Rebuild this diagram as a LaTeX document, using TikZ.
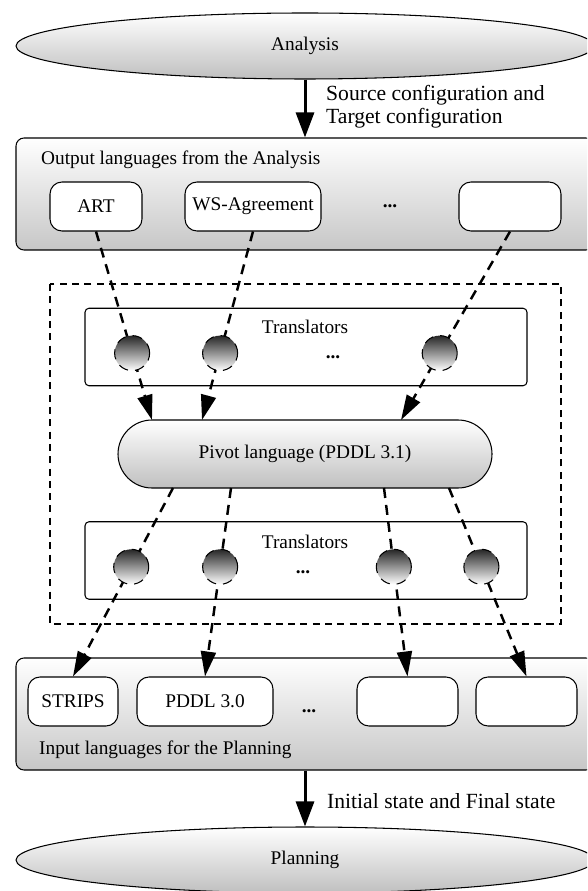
\documentclass[tikz,border=0pt]{standalone}
\usepackage{fontspec}
\setmainfont{Liberation Serif}
\usetikzlibrary{arrows.meta, shapes.geometric}

\begin{document}
\begin{tikzpicture}[
      every node/.style={font=\fontsize{11}{13}\selectfont},
      stage/.style={ellipse, draw, line width=0.6pt, top color=white, bottom color=black!25, minimum width=11.56cm, minimum height=1.32cm, inner sep=0pt},
      group/.style={rectangle, rounded corners=0.16cm, draw, line width=0.6pt, top color=white, bottom color=black!22, minimum width=11.56cm, minimum height=2.24cm},
      lang/.style={rectangle, rounded corners=0.24cm, draw, line width=0.6pt, fill=white, minimum height=0.98cm},
      trans/.style={rectangle, rounded corners=0.08cm, draw, line width=0.6pt, fill=white, minimum width=8.84cm, minimum height=1.55cm},
      ball/.style={circle, draw, line width=0.6pt, top color=black!85, bottom color=white, minimum size=0.7cm, inner sep=0pt},
      link/.style={-{Triangle[length=0.5cm, width=0.3cm]}, line width=1.4pt, dash pattern=on 5.7pt off 4pt},
      flow/.style={-{Triangle[length=0.5cm, width=0.36cm]}, line width=1.7pt},
      note/.style={anchor=west, align=left, font=\fontsize{12.3}{13.1}\selectfont}]

      \useasboundingbox (0,0) rectangle (11.74,-17.82);
      \clip (0,0) rectangle (11.74,-17.82);

      % Analysis side
      \node[stage] (analysis) at (6.10,-0.92) {Analysis};
      \node[group] (outbox) at (6.10,-3.88) {};
      \node[anchor=west] (outtitle) at (0.70,-3.20) {Output languages from the Analysis};
      \node[lang, minimum width=1.84cm] (art) at (1.92,-4.13) {ART};
      \node[lang, minimum width=2.72cm] (ws) at (5.06,-4.13) {WS-Agreement};
      \node (outdots) at (7.80,-4.12) {\textbf{...}};
      \node[lang, minimum width=2.04cm] (outx) at (10.20,-4.13) {};

      \draw[flow] (analysis.south) -- (outbox.north);
      \node[note] (srclabel) at (6.40,-2.13) {Source configuration and\\Target configuration};

      % Translation core
      \draw[line width=0.8pt, dash pattern=on 4pt off 3pt] (1.00,-5.68) rectangle (11.22,-12.48);
      \node[trans] (trans1) at (6.12,-6.94) {};
      \node (trans1title) at (6.10,-6.54) {Translators};
      \node (trans1dots) at (6.66,-7.14) {\textbf{...}};
      \node[rectangle, rounded corners=0.68cm, draw, line width=0.6pt, top color=white, bottom color=black!25, minimum width=7.48cm, minimum height=1.36cm] (pivot) at (6.10,-9.08) {Pivot language (PDDL 3.1)};
      \node[trans] (trans2) at (6.12,-11.21) {};
      \node (trans2title) at (6.10,-10.84) {Translators};
      \node (trans2dots) at (6.06,-11.44) {\textbf{...}};

      \coordinate (pin1) at (3.04,-8.40);
      \coordinate (pin2) at (4.04,-8.40);
      \coordinate (pin3) at (8.02,-8.40);
      \coordinate (pout1) at (3.46,-9.76);
      \coordinate (pout2) at (4.62,-9.76);
      \coordinate (pout3) at (7.68,-9.76);
      \coordinate (pout4) at (8.98,-9.76);

      % Planning side
      \node[group] (inbox) at (6.10,-14.28) {};
      \node[anchor=west] (intitle) at (0.66,-15.00) {Input languages for the Planning};
      \node[lang, minimum width=1.80cm] (strips) at (1.46,-14.03) {STRIPS};
      \node[lang, minimum width=2.72cm] (pddl) at (4.10,-14.03) {PDDL 3.0};
      \node (indots) at (6.18,-14.22) {\textbf{...}};
      \node[lang, minimum width=2.02cm] (inx) at (8.15,-14.03) {};
      \node[lang, minimum width=2.02cm] (iny) at (10.53,-14.03) {};
      \node[stage] (planning) at (6.10,-17.20) {Planning};

      \draw[flow] (inbox.south) -- (planning.north);
      \node[note] (goallabel) at (6.42,-16.02) {Initial state and Final state};

      % Translator arrows
      \draw[link] (art.south) -- node[ball, pos=0.645] (t1) {} (pin1);
      \draw[link] (ws.south) -- node[ball, pos=0.645] (t2) {} (pin2);
      \draw[link] (outx.south) -- node[ball, pos=0.645] (t3) {} (pin3);
      \draw[link] (pout1) -- node[ball, pos=0.418] (u1) {} (strips.north);
      \draw[link] (pout2) -- node[ball, pos=0.418] (u2) {} (pddl.north);
      \draw[link] (pout3) -- node[ball, pos=0.418] (u3) {} (inx.north);
      \draw[link] (pout4) -- node[ball, pos=0.418] (u4) {} (iny.north);
\end{tikzpicture}
\end{document}
